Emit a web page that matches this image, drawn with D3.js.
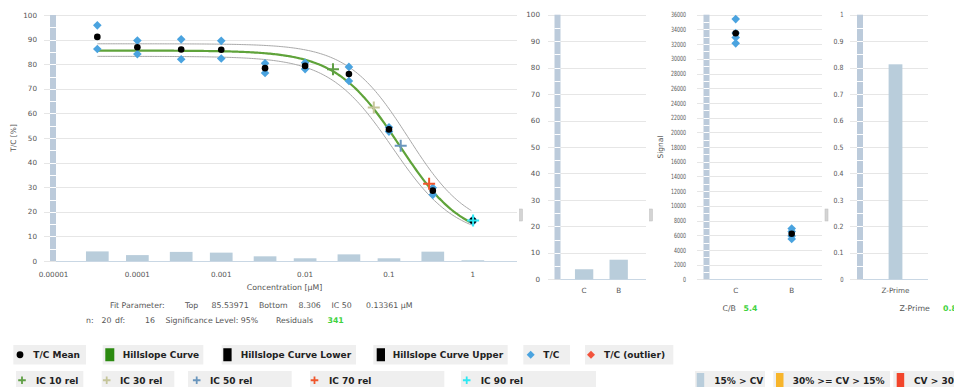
<!DOCTYPE html>
<html><head><meta charset="utf-8">
<script src="https://cdn.jsdelivr.net/npm/d3@7"></script>
<style>
html,body{margin:0;padding:0;background:#fff;overflow:hidden;}
svg{display:block;font-family:"DejaVu Sans",Verdana,sans-serif;}
</style></head><body>
<svg id="c" width="954" height="387"></svg>
<script>
// ---------------- data ----------------
const concentrations = [0.0000333, 0.0001, 0.000333, 0.001, 0.00333, 0.01, 0.0333, 0.1, 0.333, 1];
const tcRep1 = [95.8, 89.6, 90.1, 89.5, 80.4, 80.6, 78.9, 54.4, 29.8, 16.8];
const tcRep2 = [86.2, 84.1, 82.0, 82.3, 76.4, 78.0, 73.2, 52.6, 26.9, 16.0];
const tcMean = [91.1, 86.9, 86.0, 85.9, 78.4, 79.3, 76.0, 53.5, 28.6, 16.4];
const cvPercent = [3.9, 2.4, 3.7, 3.4, 1.9, 1.1, 2.7, 1.1, 3.8, 0.3];
const icLabels = ["IC 10 rel", "IC 30 rel", "IC 50 rel", "IC 70 rel", "IC 90 rel"];
const icConc = [0.0215, 0.0659, 0.138, 0.301, 1.007];
const icValue = [77.9, 62.4, 46.9, 31.4, 16.5];
const icColors = ["#5f9f45", "#c5c59a", "#6a96bd", "#f0562c", "#2ee8f2"];
// hill fit parameters: top, bottom, IC50, slope
const fitParams = [85.53971, 8.306, 0.13361, 1.15];
const upperParams = [88.3, 12.0, 0.17, 1.2];
const lowerParams = [83.2, 9.0, 0.11, 1.15];
const xTicks = [0.00001, 0.0001, 0.001, 0.01, 0.1, 1];
const xTickLabels = ["0.00001", "0.0001", "0.001", "0.01", "0.1", "1"];
const yTicksMain = [0, 10, 20, 30, 40, 50, 60, 70, 80, 90, 100];
const cvCategories = ["C", "B"];
const cvControlValues = [3.8, 7.4];
const signalCategories = ["C", "B"];
const signalC = [35400, 33500, 32900, 32100];
const signalB = [6900, 6500, 5900, 5500];
const signalMean = [33475, 6200];
const zCategories = ["Z-Prime"];
const zValues = [0.8125];
const cbRatioText = "5.4";
const zPrimeText = "0.81";
const legendRow1 = ["T/C Mean", "Hillslope Curve", "Hillslope Curve Lower", "Hillslope Curve Upper", "T/C", "T/C (outlier)"];
const legendCV = ["15% > CV", "30% >= CV > 15%", "CV > 30%"];
const cvColors = ["#b9cddb", "#f7b52b", "#f2452c"];

// ---------------- helpers ----------------
const svg = d3.select("#c");
const GRID = "#e6e6e6", TXT = "#555", BAR = "#b9cddb", STRIPE = "#bccbdb", BASE = "#c9d7e4";
const BLUE = "#4aa3df";
const diamond = r => `M0,${-r}L${r},0L0,${r}L${-r},0Z`;
const cross = r => `M${-r},0H${r}M0,${-r}V${r}`;

function yAxisPanel(y, ticks, fmt, gx0, gx1, sx, labelX, halfStep, charW) {
  const g = svg.append("g");
  g.selectAll("line.grid").data(ticks).join("line")
    .attr("x1", gx0).attr("x2", gx1)
    .attr("y1", d => Math.round(y(d)) + 0.5).attr("y2", d => Math.round(y(d)) + 0.5)
    .attr("stroke", GRID).attr("stroke-width", 1);
  const lbl = g.selectAll("text").data(ticks).join("text")
    .attr("x", labelX).attr("y", d => y(d) + 2.6)
    .attr("text-anchor", "end").attr("font-size", 7.2).attr("fill", TXT)
    .text(fmt);
  if (charW) lbl.attr("textLength", d => String(fmt(d)).length * charW).attr("lengthAdjust", "spacingAndGlyphs");
  // striped axis bar
  const d0 = y.domain()[0], d1 = y.domain()[1];
  g.append("rect").attr("x", sx).attr("width", 6)
    .attr("y", y(d1)).attr("height", y(d0) - y(d1)).attr("fill", STRIPE);
  const stripes = d3.range(d0 + halfStep, d1 - halfStep / 2, halfStep);
  g.selectAll("line.st").data(stripes).join("line")
    .attr("x1", sx).attr("x2", sx + 6)
    .attr("y1", d => Math.round(y(d)) + 0.5).attr("y2", d => Math.round(y(d)) + 0.5)
    .attr("stroke", "#fff").attr("stroke-width", 1);
  return g;
}
function baseLine(y0, x0, x1) {
  svg.append("line").attr("x1", x0).attr("x2", x1).attr("y1", y0 + 0.5).attr("y2", y0 + 0.5)
    .attr("stroke", BASE).attr("stroke-width", 1);
}
function handle(x, y) {
  svg.append("rect").attr("x", x).attr("y", y).attr("width", 3).attr("height", 12)
    .attr("fill", "#d4d4d4").attr("stroke", "#bdbdbd").attr("stroke-width", 0.5);
}

// ---------------- main dose response chart ----------------
const x = d3.scaleLog().domain([0.00001, 3.333]).range([53.5, 516.7]);
const y = d3.scaleLinear().domain([0, 100]).range([261, 15]);

yAxisPanel(y, yTicksMain, d => d, 44, 517, 50, 37, 5);
baseLine(261, 56, 517);

// CV bars
const barW = 22.7;
svg.append("g").selectAll("rect").data(concentrations).join("rect")
  .attr("x", d => x(d) - barW / 2).attr("width", barW)
  .attr("y", (d, i) => y(cvPercent[i])).attr("height", (d, i) => y(0) - y(cvPercent[i]))
  .attr("fill", BAR);

// x labels
svg.append("g").selectAll("text").data(xTicks).join("text")
  .attr("x", d => x(d)).attr("y", 276.5).attr("text-anchor", "middle")
  .attr("font-size", 7.2).attr("fill", TXT).text((d, i) => xTickLabels[i]);

// axis titles
svg.append("text").attr("transform", "translate(16,138) rotate(-90)")
  .attr("text-anchor", "middle").attr("font-size", 7.5).attr("fill", TXT).text("T/C [%]");
svg.append("text").attr("x", 284.5).attr("y", 289.5).attr("text-anchor", "middle")
  .attr("font-size", 7.8).attr("fill", TXT).text("Concentration [µM]");

// curves
const hill = p => c => p[1] + (p[0] - p[1]) / (1 + Math.pow(c / p[2], p[3]));
const lx = d3.range(Math.log10(concentrations[0]), 0.0001, 0.02).map(v => Math.pow(10, v));
const line = f => d3.line().x(c => x(c)).y(c => y(f(c))).curve(d3.curveBasis)(lx);
svg.append("path").attr("d", line(hill(upperParams))).attr("fill", "none").attr("stroke", "#a8a8a8").attr("stroke-width", 1);
svg.append("path").attr("d", line(hill(lowerParams))).attr("fill", "none").attr("stroke", "#a8a8a8").attr("stroke-width", 1);
svg.append("path").attr("d", line(hill(fitParams))).attr("fill", "none").attr("stroke", "#5fa33a").attr("stroke-width", 2.2);

// replicates
const reps = concentrations.flatMap((c, i) => [[c, tcRep1[i]], [c, tcRep2[i]]]);
svg.append("g").selectAll("path").data(reps).join("path")
  .attr("transform", d => `translate(${x(d[0])},${y(d[1])})`)
  .attr("d", diamond(4.3)).attr("fill", BLUE);
// means
svg.append("g").selectAll("circle").data(concentrations).join("circle")
  .attr("cx", d => x(d)).attr("cy", (d, i) => y(tcMean[i])).attr("r", 3.3).attr("fill", "#000");
// IC markers
svg.append("g").selectAll("path").data(icConc).join("path")
  .attr("transform", (d, i) => `translate(${x(d)},${y(icValue[i])})`)
  .attr("d", cross(6)).attr("stroke", (d, i) => icColors[i]).attr("stroke-width", 2).attr("fill", "none");

// fit parameters text
const t1 = svg.append("text").attr("y", 308).attr("font-size", 7.8).attr("fill", TXT);
[["Fit Parameter:", 110], ["Top", 185], [String(fitParams[0]), 211.5], ["Bottom", 259], [String(fitParams[1]), 298.5], ["IC 50", 331.5], [fitParams[2] + " µM", 366]]
  .forEach(([s, px]) => t1.append("tspan").attr("x", px).text(s));
const t2 = svg.append("text").attr("y", 323).attr("font-size", 7.8).attr("fill", TXT);
[["n:", 86], ["20", 101.5], ["df:", 115], ["16", 145], ["Significance Level: 95%", 165.5], ["Residuals", 276]]
  .forEach(([s, px]) => t2.append("tspan").attr("x", px).text(s));
svg.append("text").attr("x", 327.5).attr("y", 323).attr("font-size", 7.8).attr("font-weight", "bold")
  .attr("fill", "#3fd23f").text("341");

handle(519.5, 209);

// ---------------- panel 2: control CV ----------------
const y2 = d3.scaleLinear().domain([0, 100]).range([279.3, 14.7]);
const x2 = d3.scaleBand().domain(cvCategories).range([558.7, 644.1]).padding(0.47);
yAxisPanel(y2, d3.range(0, 101, 10), d => d, 548, 646, 554.5, 540, 5);
baseLine(279, 560.5, 646);
svg.append("g").selectAll("rect").data(cvCategories).join("rect")
  .attr("x", d => x2(d)).attr("width", x2.bandwidth())
  .attr("y", (d, i) => y2(cvControlValues[i])).attr("height", (d, i) => y2(0) - y2(cvControlValues[i]))
  .attr("fill", BAR);
svg.append("g").selectAll("text").data(cvCategories).join("text")
  .attr("x", d => x2(d) + x2.bandwidth() / 2).attr("y", 292.5).attr("text-anchor", "middle")
  .attr("font-size", 7.2).attr("fill", TXT).text(d => d);
handle(649.5, 209);

// ---------------- panel 3: signal ----------------
const y3 = d3.scaleLinear().domain([0, 36000]).range([279.3, 14.7]);
const x3 = d3.scalePoint().domain(signalCategories).range([707.7, 819.7]).padding(0.5);
yAxisPanel(y3, d3.range(0, 36001, 2000), d => d, 697, 822, 703.5, 686, 1000, 3.0);
baseLine(279, 709.5, 822);
svg.append("text").attr("transform", "translate(663,147) rotate(-90)")
  .attr("text-anchor", "middle").attr("font-size", 7.5).attr("fill", TXT).text("Signal");
const sig = signalC.map(v => ["C", v]).concat(signalB.map(v => ["B", v]));
svg.append("g").selectAll("path").data(sig).join("path")
  .attr("transform", d => `translate(${x3(d[0])},${y3(d[1])})`)
  .attr("d", diamond(4.3)).attr("fill", BLUE);
svg.append("g").selectAll("circle").data(signalCategories).join("circle")
  .attr("cx", d => x3(d)).attr("cy", (d, i) => y3(signalMean[i])).attr("r", 3.3).attr("fill", "#000");
svg.append("g").selectAll("text").data(signalCategories).join("text")
  .attr("x", d => x3(d)).attr("y", 292.5).attr("text-anchor", "middle")
  .attr("font-size", 7.2).attr("fill", TXT).text(d => d);
svg.append("text").attr("x", 722.5).attr("y", 310.5).attr("font-size", 7.8).attr("fill", TXT).text("C/B");
svg.append("text").attr("x", 743.5).attr("y", 310.5).attr("font-size", 7.8).attr("font-weight", "bold")
  .attr("fill", "#3fd23f").text(cbRatioText);
handle(825, 209);

// ---------------- panel 4: Z-prime ----------------
const y4 = d3.scaleLinear().domain([0, 1]).range([279.3, 14.7]);
const x4 = d3.scaleBand().domain(zCategories).range([863, 928]).padding(0.65);
yAxisPanel(y4, d3.range(0, 11).map(d => d / 10), d => d, 850, 928, 857, 843.5, 0.05, 3.3);
baseLine(279, 863, 928);
svg.append("g").selectAll("rect").data(zCategories).join("rect")
  .attr("x", d => x4(d)).attr("width", x4.bandwidth())
  .attr("y", (d, i) => y4(zValues[i])).attr("height", (d, i) => y4(0) - y4(zValues[i]))
  .attr("fill", BAR);
svg.append("g").selectAll("text").data(zCategories).join("text")
  .attr("x", d => x4(d) + x4.bandwidth() / 2).attr("y", 292.5).attr("text-anchor", "middle")
  .attr("font-size", 7.2).attr("fill", TXT).text(d => d);
svg.append("text").attr("x", 899.5).attr("y", 310.5).attr("font-size", 7.8).attr("fill", TXT).text("Z-Prime");
svg.append("text").attr("x", 943).attr("y", 310.5).attr("font-size", 7.8).attr("font-weight", "bold")
  .attr("fill", "#3fd23f").text(zPrimeText);

// ---------------- legend ----------------
const LG = "#efefef";
const lg = svg.append("g").attr("font-size", 9).attr("font-weight", "bold").attr("fill", "#222");
function legItem(x0, x1, yTop, h, textX, label, drawSym) {
  lg.append("rect").attr("x", x0).attr("y", yTop).attr("width", x1 - x0).attr("height", h).attr("fill", LG);
  const s = lg.append("g");
  drawSym(s);
  lg.append("text").attr("x", textX).attr("y", yTop + h / 2 + 3.3).text(label);
}
const r1 = 345, h1 = 19.5, c1 = r1 + h1 / 2;
const row1Box = [[13.3, 86, 33.3], [102.7, 203.3, 122.7], [221.7, 356, 240.7], [373.3, 507.7, 392.7], [523.3, 570, 543.3], [585, 673.3, 604]];
const row1Sym = [
  g => g.append("circle").attr("cx", 20).attr("cy", c1).attr("r", 3.4).attr("fill", "#000"),
  g => g.append("rect").attr("x", 105.3).attr("y", c1 - 6.5).attr("width", 9).attr("height", 13).attr("fill", "#2b8a10"),
  g => g.append("rect").attr("x", 223.3).attr("y", c1 - 6.5).attr("width", 8.3).attr("height", 13).attr("fill", "#000"),
  g => g.append("rect").attr("x", 376.7).attr("y", c1 - 6.5).attr("width", 8.3).attr("height", 13).attr("fill", "#000"),
  g => g.append("path").attr("transform", `translate(530.7,${c1})`).attr("d", diamond(4)).attr("fill", BLUE),
  g => g.append("path").attr("transform", `translate(591,${c1})`).attr("d", diamond(4)).attr("fill", "#f2533c")
];
legendRow1.forEach((l, i) => legItem(row1Box[i][0], row1Box[i][1], r1, h1, row1Box[i][2], l, row1Sym[i]));

const r2 = 371, h2 = 19.5, c2 = r2 + h2 / 2 - 0.5;
const row2Box = [[16, 83.3, 22, 36], [101.7, 174.3, 106.7, 120], [188, 291.7, 196.7, 210], [310, 444.3, 314.5, 329], [461, 596, 466.7, 480.7]];
icLabels.forEach((l, i) => legItem(row2Box[i][0], row2Box[i][1], r2, h2, row2Box[i][3], l,
  g => g.append("path").attr("transform", `translate(${row2Box[i][2]},${c2})`).attr("d", cross(3.8))
    .attr("stroke", icColors[i]).attr("stroke-width", 1.8)));
const cvBox = [[695, 765, 696.7, 714.3], [773.3, 890, 776, 792.7], [893.3, 960, 896.7, 914]];
legendCV.forEach((l, i) => legItem(cvBox[i][0], cvBox[i][1], r2, h2, cvBox[i][3], l,
  g => g.append("rect").attr("x", cvBox[i][2]).attr("y", r2 + 2).attr("width", 7.5).attr("height", 15)
    .attr("fill", cvColors[i])));
</script>
</body></html>
